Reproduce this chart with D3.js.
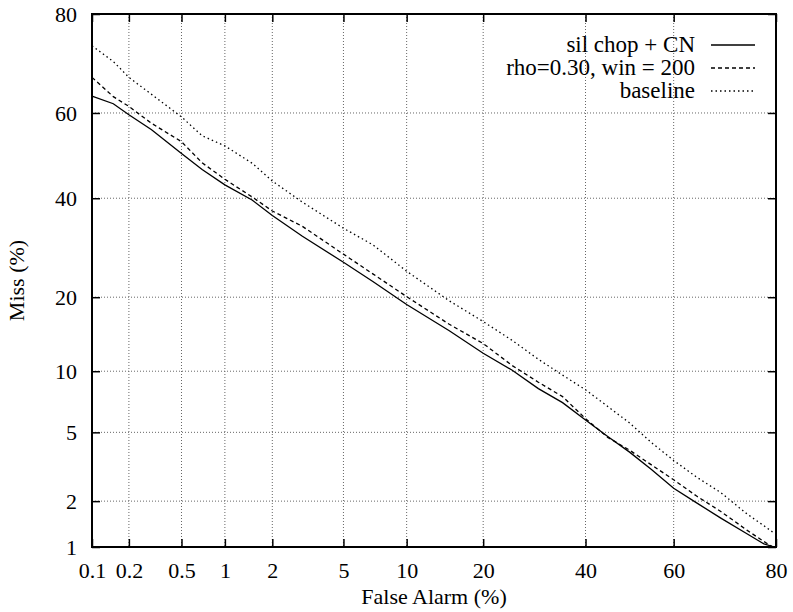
<!DOCTYPE html>
<html>
<head>
<meta charset="utf-8">
<script src="https://cdn.jsdelivr.net/npm/d3@7"></script>
<style>
  body { margin: 0; background: #fff; }
  #chart { width: 793px; height: 612px; }
  text { font-family: "Liberation Serif", "Times New Roman", serif; fill: #000; }
</style>
</head>
<body>
<div id="chart"></div>
<script>
// Data (percent)
var xTicks = [0.1, 0.2, 0.5, 1, 2, 5, 10, 20, 40, 60, 80];
var yTicks = [1, 2, 5, 10, 20, 40, 60, 80];

var silFA   = [0.1, 0.15, 0.2, 0.3, 0.5, 0.7, 1, 1.5, 2, 3, 5, 7, 10, 15, 20, 25, 30, 35, 40, 45, 50, 55, 60, 65, 70, 75, 78, 79.7];
var silMiss = [63.8, 62.1, 59.6, 56.1, 50.5, 46.7, 43.1, 39.6, 36.1, 31.6, 26.3, 22.7, 18.8, 14.9, 12.0, 10.1, 8.3, 7.1, 5.8, 4.75, 3.9, 3.1, 2.4, 1.95, 1.56, 1.23, 1.05, 1.0];

var rhoFA   = [0.1, 0.15, 0.2, 0.3, 0.5, 0.7, 1, 1.5, 2, 3, 5, 7, 10, 15, 20, 25, 30, 35, 40, 45, 50, 55, 60, 65, 70, 75, 78, 79.5];
var rhoMiss = [67.9, 63.7, 61.5, 57.6, 53.3, 48.3, 44.4, 40.3, 37.1, 33.7, 27.9, 24.1, 20.1, 15.8, 13.2, 10.6, 8.9, 7.6, 5.9, 4.7, 4.0, 3.3, 2.7, 2.15, 1.72, 1.3, 1.09, 1.0];

var baseFA   = [0.1, 0.15, 0.2, 0.3, 0.5, 0.7, 1, 1.5, 2, 3, 5, 7, 10, 15, 20, 25, 30, 35, 40, 45, 50, 55, 60, 65, 70, 75, 78, 79.6];
var baseMiss = [74.3, 71.2, 67.9, 64.2, 59.1, 54.7, 52.3, 48.2, 44.0, 39.1, 33.3, 29.8, 24.6, 19.4, 16.2, 13.6, 11.3, 9.6, 8.2, 6.8, 5.6, 4.4, 3.5, 2.8, 2.26, 1.66, 1.39, 1.25];

var seriesNames = ["sil chop + CN", "rho=0.30, win = 200", "baseline"];
var seriesDash = [null, "4,3", "1.5,3"];

// inverse normal cdf (Acklam)
function probit(p) {
    var a = [-3.969683028665376e+01, 2.209460984245205e+02, -2.759285104469687e+02, 1.383577518672690e+02, -3.066479806614716e+01, 2.506628277459239e+00];
    var b = [-5.447609879822406e+01, 1.615858368580409e+02, -1.556989798598866e+02, 6.680131188771972e+01, -1.328068155288572e+01];
    var c = [-7.784894002430293e-03, -3.223964580411365e-01, -2.400758277161838e+00, -2.549732539343734e+00, 4.374664141464968e+00, 2.938163982698783e+00];
    var d = [7.784695709041462e-03, 3.224671290700398e-01, 2.445134137142996e+00, 3.754408661907416e+00];
    var pl = 0.02425, q, r;
    if (p < pl) {
        q = Math.sqrt(-2 * Math.log(p));
        return (((((c[0]*q+c[1])*q+c[2])*q+c[3])*q+c[4])*q+c[5]) / ((((d[0]*q+d[1])*q+d[2])*q+d[3])*q+1);
    } else if (p <= 1 - pl) {
        q = p - 0.5; r = q * q;
        return (((((a[0]*r+a[1])*r+a[2])*r+a[3])*r+a[4])*r+a[5])*q / (((((b[0]*r+b[1])*r+b[2])*r+b[3])*r+b[4])*r+1);
    }
    q = Math.sqrt(-2 * Math.log(1 - p));
    return -(((((c[0]*q+c[1])*q+c[2])*q+c[3])*q+c[4])*q+c[5]) / ((((d[0]*q+d[1])*q+d[2])*q+d[3])*q+1);
}

var width = 793, height = 612;
var margin = {top: 14, right: 17, bottom: 65, left: 92};
var innerW = width - margin.left - margin.right;
var innerH = height - margin.top - margin.bottom;

var svg = d3.select("#chart").append("svg")
    .attr("width", width)
    .attr("height", height);
var g = svg.append("g").attr("transform", "translate(" + margin.left + "," + margin.top + ")");

var x = d3.scaleLinear().domain([probit(0.001), probit(0.8)]).range([0, innerW]);
var y = d3.scaleLinear().domain([probit(0.01), probit(0.8)]).range([innerH, 0]);
var px = function (v) { return x(probit(v / 100)); };
var py = function (v) { return y(probit(v / 100)); };

// grid
g.append("g").selectAll("line")
    .data(xTicks.slice(1, -1)).enter().append("line")
    .attr("x1", px).attr("x2", px)
    .attr("y1", 0).attr("y2", innerH)
    .attr("stroke", "#666").attr("stroke-width", 1).attr("stroke-dasharray", "1,2");
g.append("g").selectAll("line")
    .data(yTicks.slice(1, -1)).enter().append("line")
    .attr("y1", py).attr("y2", py)
    .attr("x1", 0).attr("x2", innerW)
    .attr("stroke", "#666").attr("stroke-width", 1).attr("stroke-dasharray", "1,2");

// axes
var fmt = function (d) { return String(d); };
var xAxis = d3.axisBottom(x)
    .tickValues(xTicks.map(function (v) { return probit(v / 100); }))
    .tickFormat(function (d, i) { return fmt(xTicks[i]); })
    .tickSizeInner(-8).tickSizeOuter(0).tickPadding(15);
var yAxis = d3.axisLeft(y)
    .tickValues(yTicks.map(function (v) { return probit(v / 100); }))
    .tickFormat(function (d, i) { return fmt(yTicks[i]); })
    .tickSizeInner(-8).tickSizeOuter(0).tickPadding(15);
var xTop = d3.axisTop(x).tickValues(xAxis.tickValues()).tickFormat("").tickSizeInner(-8).tickSizeOuter(0);
var yRight = d3.axisRight(y).tickValues(yAxis.tickValues()).tickFormat("").tickSizeInner(-8).tickSizeOuter(0);

[g.append("g").attr("transform", "translate(0," + innerH + ")").call(xAxis),
 g.append("g").call(yAxis),
 g.append("g").call(xTop),
 g.append("g").attr("transform", "translate(" + innerW + ",0)").call(yRight)
].forEach(function (ax) {
    ax.select(".domain").remove();
    ax.selectAll(".tick line").attr("stroke", "#000").attr("stroke-width", 1.5);
    ax.selectAll("text").style("font-size", "22px").style("font-family", "'Liberation Serif', serif").attr("fill", "#000");
});

// border
g.append("rect")
    .attr("width", innerW).attr("height", innerH)
    .attr("fill", "none").attr("stroke", "#000").attr("stroke-width", 2);

// curves
var line = d3.line()
    .x(function (d) { return px(d[0]); })
    .y(function (d) { return py(d[1]); });
var series = [d3.zip(silFA, silMiss), d3.zip(rhoFA, rhoMiss), d3.zip(baseFA, baseMiss)];
g.selectAll(".curve")
    .data(series).enter().append("path")
    .attr("class", "curve")
    .attr("d", line)
    .attr("fill", "none")
    .attr("stroke", "#000")
    .attr("stroke-width", 1.3)
    .attr("stroke-dasharray", function (d, i) { return seriesDash[i]; });

// legend
var legend = svg.append("g").attr("class", "legend");
var legendY = [45, 68, 91];
seriesNames.forEach(function (name, i) {
    legend.append("text")
        .attr("x", 695).attr("y", legendY[i] + 7)
        .attr("text-anchor", "end")
        .style("font-size", "23px")
        .text(name);
    legend.append("line")
        .attr("x1", 711).attr("x2", 755)
        .attr("y1", legendY[i]).attr("y2", legendY[i])
        .attr("stroke", "#000").attr("stroke-width", 1.3)
        .attr("stroke-dasharray", seriesDash[i]);
});

// axis titles
svg.append("text")
    .attr("x", margin.left + innerW / 2).attr("y", 604)
    .attr("text-anchor", "middle")
    .style("font-size", "22px")
    .text("False Alarm (%)");
svg.append("text")
    .attr("transform", "translate(24," + (margin.top + innerH / 2) + ") rotate(-90)")
    .attr("text-anchor", "middle")
    .style("font-size", "22px")
    .text("Miss (%)");
</script>
</body>
</html>
